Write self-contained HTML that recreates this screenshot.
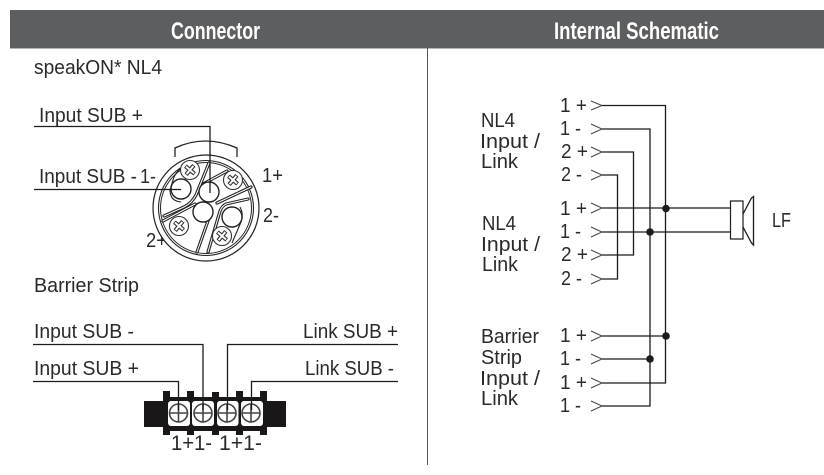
<!DOCTYPE html>
<html><head><meta charset="utf-8"><style>
html,body{margin:0;padding:0;background:#fff;width:824px;height:475px;overflow:hidden}
svg{display:block}
text{font-family:"Liberation Sans",sans-serif;font-size:20px;fill:#2b2a2b}
.w{fill:none;stroke:#1d1b1c;stroke-width:1.3}
.a{fill:none;stroke:#444;stroke-width:1}
.d{fill:none;stroke:#222;stroke-width:1.1}
.dw{fill:none;stroke:#222;stroke-width:3.2;stroke-linecap:round;stroke-linejoin:round}
.dn{fill:none;stroke:#fff;stroke-width:1;stroke-linecap:round;stroke-linejoin:round}
.r{fill:#fff;stroke:#222;stroke-width:1.4}
.s{fill:#fff;stroke:#333;stroke-width:1.1}
.x{fill:none;stroke:#333;stroke-width:4.2}
.x2{fill:none;stroke:#fff;stroke-width:2}
</style></head><body>
<svg width="824" height="475" viewBox="0 0 824 475" xmlns="http://www.w3.org/2000/svg">
<defs>
<g id="sc"><circle class="s" r="9.5"/><path class="x" d="M-6,0 H6 M0,-6 V6" transform="rotate(40)"/><path class="x2" d="M-5.2,0 H5.2 M0,-5.2 V5.2" transform="rotate(40)"/></g>
</defs>
<rect x="10" y="10" width="814" height="38" fill="#5d5e60"/>
<rect x="10" y="48" width="814" height="1" fill="#b5b6b7"/>
<text x="171" y="39" textLength="89" lengthAdjust="spacingAndGlyphs" style="font-size:24px;font-weight:bold;fill:#fff">Connector</text>
<text x="554" y="39" textLength="165" lengthAdjust="spacingAndGlyphs" style="font-size:24px;font-weight:bold;fill:#fff">Internal Schematic</text>
<line x1="427.5" y1="48" x2="427.5" y2="465" stroke="#555" stroke-width="1"/>

<text x="34" y="74" textLength="128" lengthAdjust="spacingAndGlyphs">speakON* NL4</text>
<text x="39" y="122" textLength="104" lengthAdjust="spacingAndGlyphs">Input SUB +</text>
<text x="39" y="183" textLength="98" lengthAdjust="spacingAndGlyphs">Input SUB -</text>
<text x="140" y="183" textLength="16" lengthAdjust="spacingAndGlyphs">1-</text>
<text x="262" y="182" textLength="21" lengthAdjust="spacingAndGlyphs">1+</text>
<text x="263" y="222" textLength="16" lengthAdjust="spacingAndGlyphs">2-</text>
<text x="146" y="247" textLength="21" lengthAdjust="spacingAndGlyphs">2+</text>

<!-- speakON connector -->
<path class="d" d="M175,157 V148 Q205,134 237,148 V157" style="stroke-width:1.3"/>
<circle cx="206" cy="208" r="53" fill="#fff" stroke="#222" stroke-width="1.2"/>
<circle cx="206" cy="208" r="47.5" fill="none" stroke="#222" stroke-width="1.1"/>
<circle cx="206" cy="208" r="45.5" fill="none" stroke="#222" stroke-width="1"/>
<g id="lines">
<path class="dw" d="M209,163 L196,195 Q192,203 184,207 L164,216"/>
<path class="dw" d="M227,171 L203,184"/>
<path class="dw" d="M251,187 L217,203"/>
<path class="dw" d="M163,221 L195,204"/>
<path class="dw" d="M209,218 L197,252"/>
<path class="dw" d="M248,199 L226,204 Q222,206 220,211 L208,252"/>
<path class="dn" d="M209,163 L196,195 Q192,203 184,207 L164,216"/>
<path class="dn" d="M227,171 L203,184"/>
<path class="dn" d="M251,187 L217,203"/>
<path class="dn" d="M163,221 L195,204"/>
<path class="dn" d="M209,218 L197,252"/>
<path class="dn" d="M248,199 L226,204 Q222,206 220,211 L208,252"/>
</g>
<path class="d" d="M186,165 Q177,170 174,177 L170,190 Q170,201 181,202"/>
<path class="d" d="M240,207 Q244,214 241,222 L232,243"/>
<circle class="r" cx="181" cy="189" r="10"/>
<circle class="r" cx="209" cy="192" r="10"/>
<circle class="r" cx="203" cy="212" r="10"/>
<circle class="r" cx="232" cy="217" r="10"/>
<use href="#sc" x="190" y="170"/>
<use href="#sc" x="233" y="180"/>
<use href="#sc" x="179" y="226"/>
<use href="#sc" x="222" y="236"/>
<path class="w" d="M34,126.5 H210 V193"/>
<path class="w" d="M34,189.5 H181"/>

<text x="34" y="292" textLength="105" lengthAdjust="spacingAndGlyphs">Barrier Strip</text>
<text x="34" y="338" textLength="100" lengthAdjust="spacingAndGlyphs">Input SUB -</text>
<text x="34" y="375" textLength="105" lengthAdjust="spacingAndGlyphs">Input SUB +</text>
<text x="303" y="338" textLength="95" lengthAdjust="spacingAndGlyphs">Link SUB +</text>
<text x="305" y="375" textLength="89" lengthAdjust="spacingAndGlyphs">Link SUB -</text>

<!-- barrier strip -->
<rect x="144" y="401" width="142" height="26" fill="#1a1718"/>
<rect x="163" y="397" width="104" height="34" fill="#1a1718"/>
<g fill="#1a1718">
<rect x="163" y="391" width="7" height="44"/><rect x="187" y="391" width="7" height="44"/><rect x="212" y="392" width="7" height="43"/><rect x="236" y="391" width="7" height="44"/><rect x="260" y="391" width="7" height="44"/>
</g>
<g fill="#fff">
<rect x="168" y="401" width="22" height="25" rx="3"/><rect x="192" y="401" width="22" height="25" rx="3"/><rect x="217" y="401" width="21.5" height="25" rx="3"/><rect x="241" y="401" width="22" height="25" rx="3"/>
</g>
<g fill="none" stroke="#444" stroke-width="1.6">
<circle cx="178.5" cy="413" r="9"/><circle cx="203" cy="413" r="9"/><circle cx="227" cy="413" r="9"/><circle cx="251" cy="413" r="9"/>
<path d="M170,413 H187 M194,413 H212 M218,413 H236 M242,413 H260 M178.5,404 V422 M203,404 V422 M227,404 V422 M251,404 V422"/>
</g>
<path class="w" d="M33,344.5 H203 V410"/>
<path class="w" d="M33,381.5 H178.5 V410"/>
<path class="w" d="M398,344.5 H227.5 V410"/>
<path class="w" d="M398,381.5 H251.5 V410"/>
<text x="171" y="450" textLength="41" lengthAdjust="spacingAndGlyphs" style="font-size:21px">1+1-</text>
<text x="219" y="450" textLength="43" lengthAdjust="spacingAndGlyphs" style="font-size:21px">1+1-</text>

<!-- schematic labels -->
<text x="481" y="127" textLength="34" lengthAdjust="spacingAndGlyphs">NL4</text>
<text x="480" y="148" textLength="60" lengthAdjust="spacingAndGlyphs">Input /</text>
<text x="481" y="168" textLength="37" lengthAdjust="spacingAndGlyphs">Link</text>
<text x="482" y="230" textLength="34" lengthAdjust="spacingAndGlyphs">NL4</text>
<text x="481" y="251" textLength="59" lengthAdjust="spacingAndGlyphs">Input /</text>
<text x="482" y="271" textLength="36" lengthAdjust="spacingAndGlyphs">Link</text>
<text x="481" y="343" textLength="58" lengthAdjust="spacingAndGlyphs">Barrier</text>
<text x="481" y="364" textLength="41" lengthAdjust="spacingAndGlyphs">Strip</text>
<text x="480" y="385" textLength="60" lengthAdjust="spacingAndGlyphs">Input /</text>
<text x="481" y="405" textLength="37" lengthAdjust="spacingAndGlyphs">Link</text>
<text x="772" y="227" textLength="19" lengthAdjust="spacingAndGlyphs">LF</text>

<text x="560" y="112" textLength="27" lengthAdjust="spacingAndGlyphs">1 +</text>
<text x="560" y="135" textLength="21" lengthAdjust="spacingAndGlyphs">1 -</text>
<text x="561" y="158" textLength="27" lengthAdjust="spacingAndGlyphs">2 +</text>
<text x="561" y="181" textLength="21" lengthAdjust="spacingAndGlyphs">2 -</text>
<text x="560" y="215" textLength="27" lengthAdjust="spacingAndGlyphs">1 +</text>
<text x="560" y="238" textLength="21" lengthAdjust="spacingAndGlyphs">1 -</text>
<text x="561" y="261" textLength="27" lengthAdjust="spacingAndGlyphs">2 +</text>
<text x="561" y="285" textLength="21" lengthAdjust="spacingAndGlyphs">2 -</text>
<text x="560" y="342" textLength="27" lengthAdjust="spacingAndGlyphs">1 +</text>
<text x="560" y="365" textLength="21" lengthAdjust="spacingAndGlyphs">1 -</text>
<text x="560" y="389" textLength="27" lengthAdjust="spacingAndGlyphs">1 +</text>
<text x="560" y="412" textLength="21" lengthAdjust="spacingAndGlyphs">1 -</text>

<!-- arrowheads -->
<path class="a" d="M591,101 L602,105.5 L591,110 M591,124 L602,129 L591,134 M591,147 L602,152 L591,157 M591,170 L602,175 L591,180 M591,203 L602,208 L591,213 M591,227 L602,232 L591,237 M591,250 L602,255 L591,260 M591,274 L602,279 L591,284 M591,331 L602,336 L591,341 M591,354 L602,359 L591,364 M591,378 L602,383 L591,388 M591,401 L602,406 L591,411"/>

<!-- wires -->
<path class="w" d="M602,105.5 H665.5 V383 H602"/>
<path class="w" d="M602,129 H650 V406 H602"/>
<path class="w" d="M602,152 H633.5 V255 H602"/>
<path class="w" d="M602,175 H617.5 V279 H602"/>
<path class="w" d="M602,208 H730"/>
<path class="w" d="M602,232 H730"/>
<path class="w" d="M602,336 H666"/>
<path class="w" d="M602,359 H650"/>
<g fill="#1d1b1c">
<circle cx="666" cy="208.5" r="3.8"/><circle cx="650" cy="232" r="3.8"/><circle cx="666" cy="336" r="3.8"/><circle cx="650" cy="359" r="3.8"/>
</g>

<!-- speaker -->
<rect x="730.5" y="201" width="12.5" height="38" fill="#fff" stroke="#1d1b1c" stroke-width="1.2"/>
<path class="w" d="M743,214 L751.5,198 L753.5,196.5 V245 L751.5,243 L743,227"/>
</svg>
</body></html>
